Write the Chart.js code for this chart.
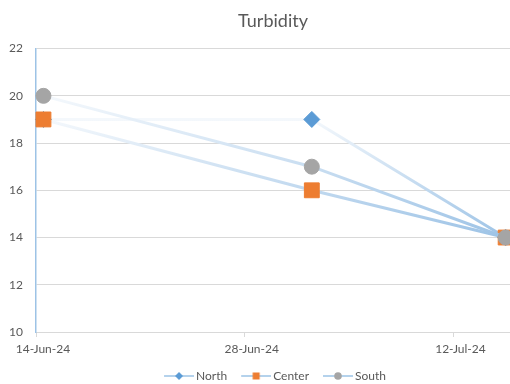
<!DOCTYPE html>
<html>
<head>
<meta charset="utf-8">
<script src="https://cdn.jsdelivr.net/npm/chart.js@4"></script>
<style>
  html, body { margin: 0; padding: 0; background: #fff; overflow: hidden; }
  #wrap { width: 510px; height: 384px; overflow: hidden; }
</style>
</head>
<body>
<div id="wrap"><canvas id="chart" width="546" height="384"></canvas></div>
<script>
// sample dates (Excel puts each day's point in the middle of the day)
const dates = ['2024-06-14', '2024-07-02', '2024-07-15'];
const north = [19, 19, 14];
const center = [19, 16, 14];
const south = [20, 17, 14];
const tickDates = ['2024-06-14', '2024-06-28', '2024-07-12'];
const tickLabels = ['14-Jun-24', '28-Jun-24', '12-Jul-24'];
const axisEndDate = '2024-07-17';

const toDay = s => (Date.parse(s + 'T00:00:00Z') - Date.parse(dates[0] + 'T00:00:00Z')) / 86400000;
const points = vals => vals.map((v, i) => ({ x: toDay(dates[i]) + 0.5, y: v }));

const lineLight = '#f4f8fc';
const lineDark = '#9dc3e6';
const textColor = '#595959';
const font = 'Lato, "Open Sans", sans-serif';

// Excel-style gradient line: light at the series top, darker at its bottom
function gradientFor(vals) {
    return ctx => {
        const chart = ctx.chart;
        if (!chart.chartArea) return lineDark;
        const y = chart.scales.y;
        const top = y.getPixelForValue(Math.max(...vals));
        const bottom = y.getPixelForValue(Math.min(...vals));
        const g = chart.ctx.createLinearGradient(0, top, 0, bottom);
        g.addColorStop(0, lineLight);
        g.addColorStop(1, lineDark);
        return g;
    };
}

// small line + marker images for the legend (blank strip on the left so the text sits close)
function legendIcon(style, color) {
    const c = document.createElement('canvas');
    c.width = 38; c.height = 10;
    const x = c.getContext('2d');
    x.strokeStyle = '#b4d2ec';
    x.lineWidth = 2;
    x.beginPath(); x.moveTo(8, 5); x.lineTo(38, 5); x.stroke();
    x.fillStyle = color;
    x.beginPath();
    if (style === 'diamond') {
        x.moveTo(23, 1); x.lineTo(27, 5); x.lineTo(23, 9); x.lineTo(19, 5); x.closePath();
    } else if (style === 'square') {
        x.rect(19.5, 1.5, 7, 7);
    } else {
        x.arc(23, 5, 3.8, 0, Math.PI * 2);
    }
    x.fill();
    return c;
}

const series = [
    { label: 'North', vals: north, style: 'rectRot', color: '#5b9bd5', r: 8, icon: 'diamond' },
    { label: 'Center', vals: center, style: 'rect', color: '#ed7d31', r: 10.5, icon: 'square' },
    { label: 'South', vals: south, style: 'circle', color: '#a5a5a5', r: 7.5, icon: 'circle' }
];

new Chart(document.getElementById('chart'), {
    type: 'line',
    data: {
        datasets: series.map((s, i) => ({
            label: s.label,
            data: points(s.vals),
            order: series.length - i,
            borderColor: gradientFor(s.vals),
            borderWidth: 3,
            pointStyle: s.style,
            pointRadius: s.r,
            pointHoverRadius: s.r,
            pointBackgroundColor: s.color,
            pointBorderColor: s.color,
            pointBorderWidth: 1,
            legendIcon: legendIcon(s.icon, s.color),
            clip: false
        }))
    },
    options: {
        responsive: false,
        animation: false,
        events: [],
        layout: { padding: { left: 0, right: 0, top: 0, bottom: -8 } },
        scales: {
            x: {
                type: 'linear',
                min: 0,
                max: toDay(axisEndDate),
                afterBuildTicks: scale => {
                    scale.ticks = tickDates.map(d => ({ value: toDay(d) }));
                },
                afterFit: scale => {
                    scale.height = 28;
                    scale.paddingRight = 18;
                },
                ticks: {
                    callback: v => tickLabels[tickDates.findIndex(d => toDay(d) === v)],
                    color: textColor,
                    font: { family: font, size: 12 },
                    labelOffset: 7,
                    padding: 5,
                    maxRotation: 0,
                    autoSkip: false
                },
                grid: { drawOnChartArea: false, drawTicks: true, tickLength: 5, color: '#d9d9d9' },
                border: { color: '#d9d9d9', width: 1 }
            },
            y: {
                min: 10,
                max: 22,
                afterFit: scale => { scale.width = 36; },
                ticks: {
                    stepSize: 2,
                    color: textColor,
                    font: { family: font, size: 12 },
                    padding: 13
                },
                grid: { color: '#d9d9d9', drawTicks: false },
                border: { color: '#9dc3e6', width: 1.5 }
            }
        },
        plugins: {
            title: {
                display: true,
                text: 'Turbidity',
                color: textColor,
                font: { family: font, size: 18, weight: 'normal' },
                padding: { top: 10, bottom: 17 }
            },
            legend: {
                position: 'bottom',
                labels: {
                    usePointStyle: true,
                    pointStyleWidth: 30,
                    padding: 10,
                    color: textColor,
                    font: { family: font, size: 12 },
                    generateLabels: chart => chart.data.datasets.map((ds, i) => ({
                        text: ds.label,
                        pointStyle: ds.legendIcon,
                        fillStyle: 'transparent',
                        strokeStyle: 'transparent',
                        lineWidth: 0,
                        fontColor: textColor,
                        datasetIndex: i
                    }))
                }
            },
            tooltip: { enabled: false }
        }
    }
});
</script>
</body>
</html>
